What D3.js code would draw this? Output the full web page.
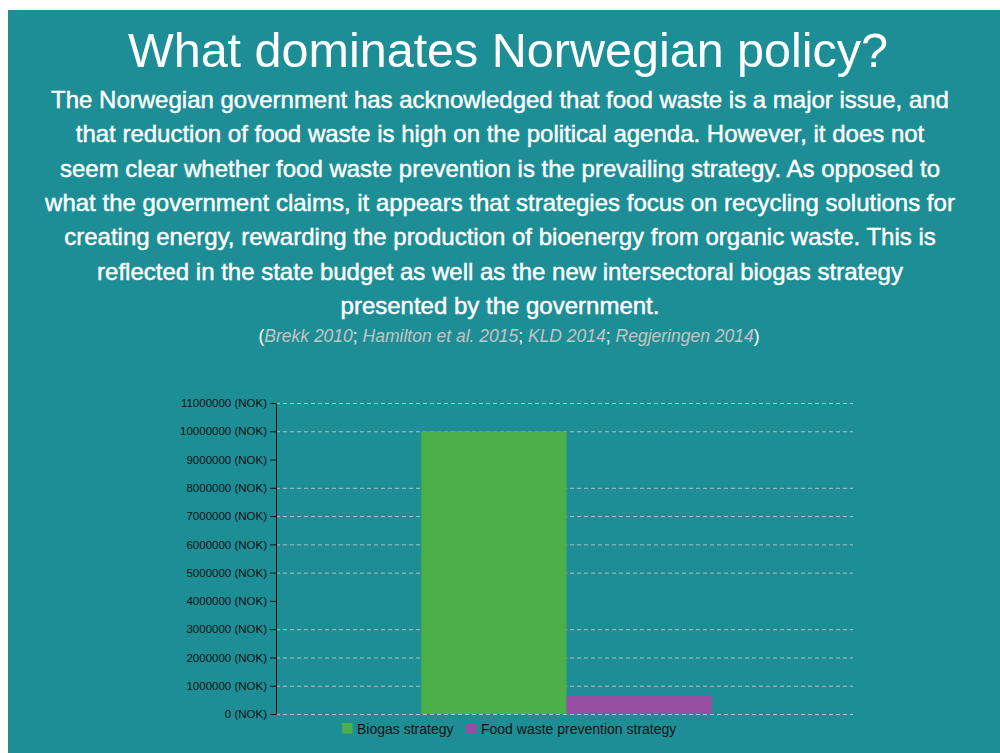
<!DOCTYPE html>
<html>
<head>
<meta charset="utf-8">
<script src="https://cdn.jsdelivr.net/npm/d3@7"></script>
<style>
  body { margin: 0; background: #fff; font-family: "Liberation Sans", Arial, Helvetica, sans-serif; }
  #panel { position: absolute; left: 8px; top: 10px; width: 992px; height: 743px; background: #1e8e96; }
  svg { position: absolute; left: 0; top: 0; }
  .grid line { stroke: #d0d0d0; stroke-dasharray: 4,3; stroke-opacity: 0.8; }
  .grid path { display: none; }
  .axis text { fill: #111; font-size: 11.5px; }
  .axis path, .axis line { stroke: #111; }
</style>
</head>
<body>
<div id="panel"></div>
<script>
// chart data
const categories = ["Biogas strategy", "Food waste prevention strategy"];
const budget = [10000000, 670000];
const colors = ["#4daf4a", "#984ea3"];
const yTicks = [0, 1000000, 2000000, 3000000, 4000000, 5000000, 6000000, 7000000, 8000000, 9000000, 10000000, 11000000];
const gridTicks = [0, 1000000, 2000000, 3000000, 5000000, 6000000, 7000000, 8000000, 10000000, 11000000];

const title = "What dominates Norwegian policy?";
const paragraph = [
  "The Norwegian government has acknowledged that food waste is a major issue, and",
  "that reduction of food waste is high on the political agenda. However, it does not",
  "seem clear whether food waste prevention is the prevailing strategy. As opposed to",
  "what the government claims, it appears that strategies focus on recycling solutions for",
  "creating energy, rewarding the production of bioenergy from organic waste. This is",
  "reflected in the state budget as well as the new intersectoral biogas strategy",
  "presented by the government."
];
const sources = ["Brekk 2010", "Hamilton et al. 2015", "KLD 2014", "Regjeringen 2014"];

const width = 1000, height = 753;
const svg = d3.select("body").append("svg")
  .attr("width", width)
  .attr("height", height);

/// header text ///
svg.append("text")
  .attr("x", 508).attr("y", 67)
  .attr("text-anchor", "middle")
  .style("font-size", "48.5px")
  .style("fill", "#fff")
  .text(title);

svg.append("g").selectAll("text")
  .data(paragraph)
  .join("text")
  .attr("x", 500)
  .attr("y", (d, i) => 108 + i * 34.3)
  .attr("text-anchor", "middle")
  .style("font-size", "24px")
  .style("fill", "#fff")
  .style("stroke", "#fff")
  .style("stroke-width", 0.45)
  .text(d => d);

const cite = svg.append("text")
  .attr("x", 509).attr("y", 342)
  .attr("text-anchor", "middle")
  .style("font-size", "17.5px")
  .style("fill", "#fff");
cite.append("tspan").text("(");
sources.forEach((s, i) => {
  cite.append("tspan").style("font-style", "italic").style("fill", "#c4c4c4").text(s);
  cite.append("tspan").text(i < sources.length - 1 ? "; " : ")");
});

//////////////////////////////////////
////////// Draw the Chart ////////////
//////////////////////////////////////
const margin = {left: 276, right: 143, top: 403, bottom: 39};
const innerW = width - margin.left - margin.right;
const innerH = height - margin.top - margin.bottom;

const g = svg.append("g")
  .attr("transform", `translate(${margin.left}, ${margin.top})`);

const x = d3.scaleBand()
  .domain(categories)
  .range([0, innerW])
  .paddingInner(0)
  .paddingOuter(1);

const y = d3.scaleLinear()
  .domain([0, 11000000])
  .range([innerH, 0]);

// dashed grid
g.append("g")
  .attr("class", "grid")
  .call(d3.axisLeft(y).tickValues(gridTicks).tickSize(-innerW + 4).tickFormat(""));

g.selectAll(".bar")
  .data(categories)
  .join("rect")
  .attr("class", "bar")
  .attr("x", d => x(d))
  .attr("width", x.bandwidth())
  .attr("y", (d, i) => y(budget[i]))
  .attr("height", (d, i) => innerH - y(budget[i]))
  .style("fill", (d, i) => colors[i]);

g.append("g")
  .attr("class", "axis")
  .call(d3.axisLeft(y).tickValues(yTicks).tickFormat(d => d + " (NOK)"));

/// legend ///
const legendX = [342, 466];
const legend = svg.append("g").selectAll("g")
  .data(categories)
  .join("g")
  .attr("transform", (d, i) => `translate(${legendX[i]}, 723)`);
legend.append("rect")
  .attr("width", 10.5).attr("height", 10.5)
  .style("fill", (d, i) => colors[i]);
legend.append("text")
  .attr("x", 15).attr("y", 10.5)
  .style("font-size", "14px")
  .style("fill", "#111")
  .text(d => d);
</script>
</body>
</html>
